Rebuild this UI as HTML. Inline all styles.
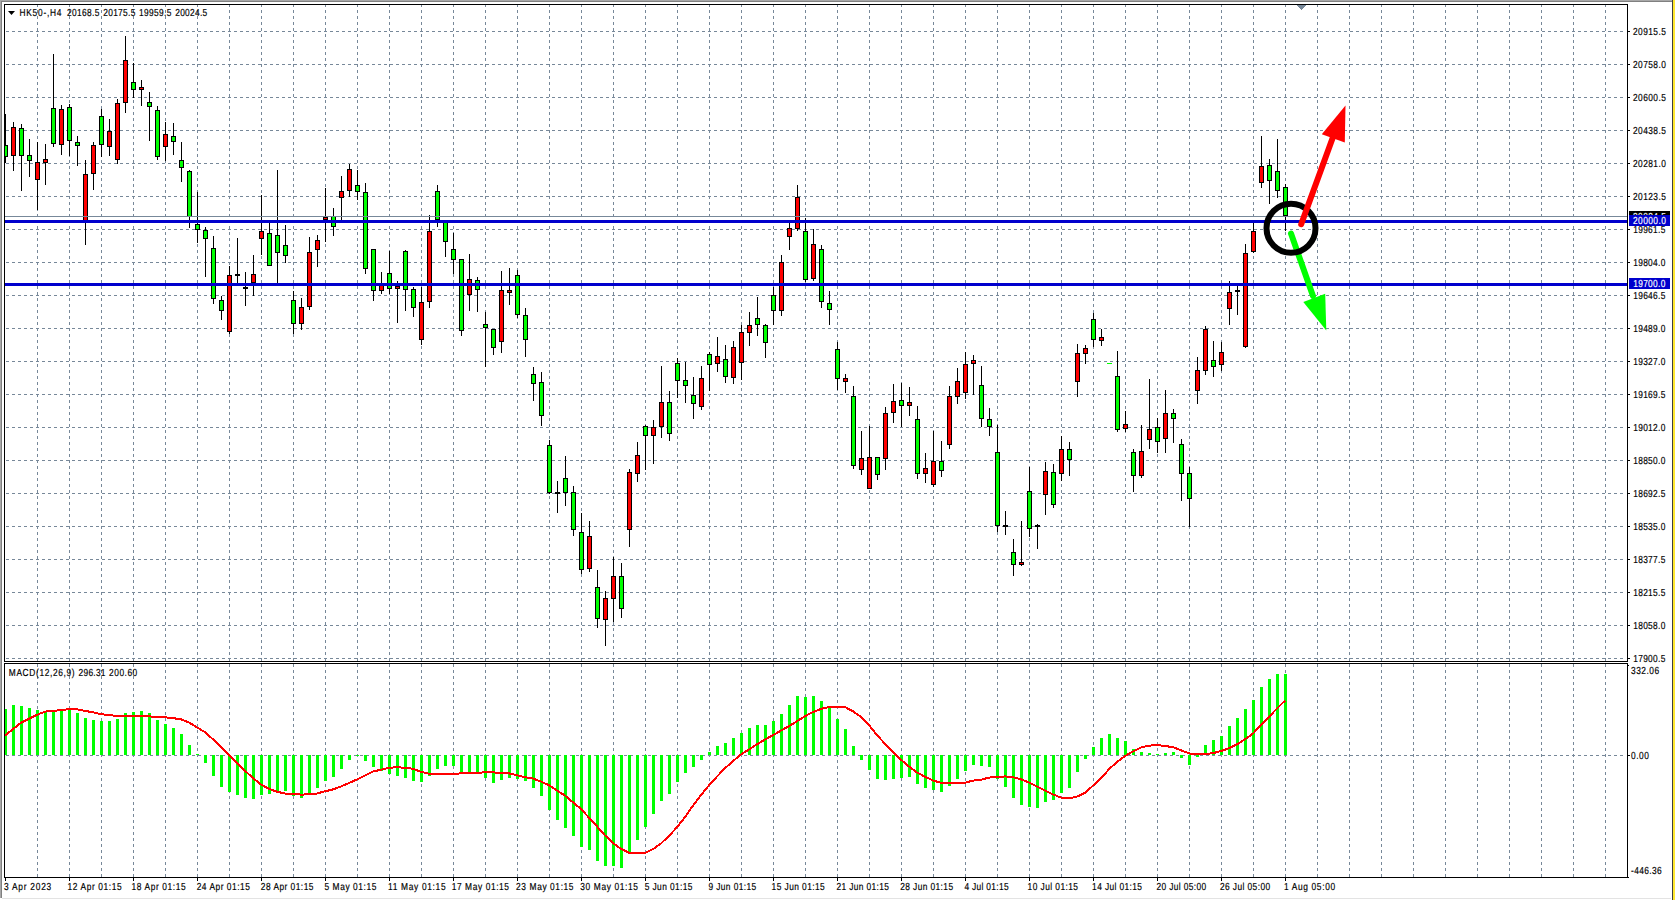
<!DOCTYPE html><html><head><meta charset="utf-8"><title>HK50 H4</title>
<style>html,body{margin:0;padding:0;background:#fff;overflow:hidden;}svg{display:block;}text{font-family:"Liberation Sans", sans-serif;}</style></head><body>
<svg width="1675" height="900" viewBox="0 0 1675 900">
<rect x="0" y="0" width="1675" height="900" fill="#ffffff"/>
<g shape-rendering="crispEdges">
<rect x="0" y="0" width="1672" height="1" fill="#a8a8a8"/>
<rect x="0" y="1" width="1672" height="1" fill="#808080"/>
<rect x="0" y="0" width="1" height="898" fill="#a8a8a8"/>
<rect x="1" y="1" width="1" height="897" fill="#808080"/>
<rect x="2" y="898" width="1669" height="1" fill="#e3e3e3"/>
<rect x="1672" y="0" width="1" height="900" fill="#404040"/>
<rect x="1673" y="0" width="2" height="900" fill="#ffe830"/>
<defs><clipPath id="cm"><rect x="5" y="5" width="1622" height="656"/></clipPath><clipPath id="cd"><rect x="5" y="664" width="1622" height="213"/></clipPath></defs>
<g clip-path="url(#cm)">
<path d="M37.5 4V661M69.5 4V661M101.5 4V661M133.5 4V661M165.5 4V661M197.5 4V661M229.5 4V661M261.5 4V661M293.5 4V661M325.5 4V661M357.5 4V661M389.5 4V661M421.5 4V661M453.5 4V661M485.5 4V661M517.5 4V661M549.5 4V661M581.5 4V661M613.5 4V661M645.5 4V661M677.5 4V661M709.5 4V661M741.5 4V661M773.5 4V661M805.5 4V661M837.5 4V661M869.5 4V661M901.5 4V661M933.5 4V661M965.5 4V661M997.5 4V661M1029.5 4V661M1061.5 4V661M1093.5 4V661M1125.5 4V661M1157.5 4V661M1189.5 4V661M1221.5 4V661M1253.5 4V661M1285.5 4V661M1317.5 4V661M1349.5 4V661M1381.5 4V661M1413.5 4V661M1445.5 4V661M1477.5 4V661M1509.5 4V661M1541.5 4V661M1573.5 4V661M1605.5 4V661" stroke="#778899" stroke-width="1" stroke-dasharray="3 3" fill="none"/>
<path d="M0 31.5H1626M0 64.5H1626M0 97.5H1626M0 130.5H1626M0 163.5H1626M0 196.5H1626M0 229.5H1626M0 262.5H1626M0 295.5H1626M0 328.5H1626M0 361.5H1626M0 394.5H1626M0 427.5H1626M0 460.5H1626M0 493.5H1626M0 526.5H1626M0 559.5H1626M0 592.5H1626M0 625.5H1626M0 658.5H1626" stroke="#778899" stroke-width="1" stroke-dasharray="3 3" fill="none"/>
</g>
<g clip-path="url(#cd)">
<path d="M37.5 658V877M69.5 658V877M101.5 658V877M133.5 658V877M165.5 658V877M197.5 658V877M229.5 658V877M261.5 658V877M293.5 658V877M325.5 658V877M357.5 658V877M389.5 658V877M421.5 658V877M453.5 658V877M485.5 658V877M517.5 658V877M549.5 658V877M581.5 658V877M613.5 658V877M645.5 658V877M677.5 658V877M709.5 658V877M741.5 658V877M773.5 658V877M805.5 658V877M837.5 658V877M869.5 658V877M901.5 658V877M933.5 658V877M965.5 658V877M997.5 658V877M1029.5 658V877M1061.5 658V877M1093.5 658V877M1125.5 658V877M1157.5 658V877M1189.5 658V877M1221.5 658V877M1253.5 658V877M1285.5 658V877M1317.5 658V877M1349.5 658V877M1381.5 658V877M1413.5 658V877M1445.5 658V877M1477.5 658V877M1509.5 658V877M1541.5 658V877M1573.5 658V877M1605.5 658V877" stroke="#778899" stroke-width="1" stroke-dasharray="3 3" fill="none"/>
<path d="M0 755.5H1626" stroke="#778899" stroke-width="1" stroke-dasharray="3 3" fill="none"/>
</g>
<g clip-path="url(#cm)">
<path d="M5.5 114V163M13.5 122V171M21.5 124V191M29.5 139V177M37.5 142V210M45.5 144V185M53.5 54V147M61.5 105V155M69.5 104V156M77.5 136V166M85.5 160V245M93.5 142V190M101.5 109V157M109.5 119V156M117.5 99V164M125.5 36V113M133.5 63V98M141.5 80V106M149.5 92V141M157.5 106V160M165.5 122V161M173.5 123V155M181.5 142V182M189.5 170V228M197.5 192V243M205.5 227V277M213.5 236V304M221.5 296V320M229.5 266V334M237.5 238V283M245.5 272V306M253.5 255V296M261.5 195V255M269.5 223V266M277.5 170V283M285.5 225V263M293.5 291V334M301.5 298V330M309.5 237V310M317.5 235V267M325.5 188V242M333.5 208V236M341.5 176V220M349.5 164V197M357.5 170V200M365.5 183V274M373.5 249V301M381.5 272V294M389.5 251V294M397.5 281V323M405.5 250V311M413.5 287V317M421.5 287V345M429.5 215V308M437.5 185V227M445.5 222V257M453.5 233V274M461.5 259V336M469.5 254V311M477.5 277V312M485.5 312V367M493.5 329V355M501.5 271V353M509.5 268V305M517.5 270V318M525.5 308V357M533.5 367V401M541.5 372V426M549.5 440V494M557.5 481V513M565.5 456V506M573.5 486V536M581.5 513V574M589.5 521V572M597.5 570V628M605.5 591V646M613.5 557V622M621.5 563V618M629.5 469V547M637.5 442V482M645.5 425V470M653.5 420V464M661.5 366V438M669.5 391V441M677.5 358V398M685.5 362V403M693.5 377V419M701.5 366V410M709.5 352V391M717.5 337V372M725.5 345V383M733.5 341V384M741.5 325V380M749.5 312V346M757.5 297V336M765.5 324V358M773.5 287V325M781.5 255V316M789.5 223V250M797.5 185V231M805.5 218V282M813.5 229V281M821.5 245V308M829.5 291V325M837.5 342V390M845.5 374V393M853.5 386V469M861.5 431V475M869.5 426V489M877.5 457V480M885.5 407V470M893.5 384V423M901.5 383V427M909.5 387V416M917.5 406V479M925.5 453V483M933.5 431V487M941.5 441V477M949.5 386V449M957.5 368V404M965.5 352V399M973.5 355V395M981.5 366V427M989.5 408V436M997.5 425V532M1005.5 511V535M1013.5 539V576M1021.5 521V566M1029.5 467V537M1037.5 524V549M1045.5 462V515M1053.5 464V508M1061.5 436V481M1069.5 442V476M1077.5 344V397M1085.5 345V364M1093.5 313V347M1101.5 329V346M1117.5 351V432M1125.5 411V432M1133.5 449V492M1141.5 425V478M1149.5 379V449M1157.5 418V453M1165.5 390V453M1173.5 409V443M1181.5 439V501M1189.5 467V527M1197.5 357V404M1205.5 326V375M1213.5 341V377M1221.5 342V371M1229.5 281V325M1237.5 286V315M1245.5 244V348M1253.5 223V253M1261.5 136V188M1269.5 159V204M1277.5 139V198M1285.5 184V231" stroke="#000" stroke-width="1" fill="none"/>
<rect x="3" y="145" width="5" height="12" fill="#000"/><rect x="4" y="146" width="3" height="10" fill="#00ff00"/><rect x="11" y="127" width="5" height="29" fill="#000"/><rect x="12" y="128" width="3" height="27" fill="#ff0000"/><rect x="19" y="128" width="5" height="28" fill="#000"/><rect x="20" y="129" width="3" height="26" fill="#00ff00"/><rect x="27" y="155" width="5" height="6" fill="#000"/><rect x="28" y="156" width="3" height="4" fill="#00ff00"/><rect x="35" y="162" width="5" height="18" fill="#000"/><rect x="36" y="163" width="3" height="16" fill="#ff0000"/><rect x="43" y="159" width="5" height="4" fill="#000"/><rect x="44" y="160" width="3" height="2" fill="#ff0000"/><rect x="51" y="108" width="5" height="36" fill="#000"/><rect x="52" y="109" width="3" height="34" fill="#00ff00"/><rect x="59" y="109" width="5" height="36" fill="#000"/><rect x="60" y="110" width="3" height="34" fill="#ff0000"/><rect x="67" y="107" width="5" height="34" fill="#000"/><rect x="68" y="108" width="3" height="32" fill="#00ff00"/><rect x="75" y="142" width="5" height="4" fill="#000"/><rect x="76" y="143" width="3" height="2" fill="#00ff00"/><rect x="83" y="174" width="5" height="49" fill="#000"/><rect x="84" y="175" width="3" height="47" fill="#ff0000"/><rect x="91" y="145" width="5" height="29" fill="#000"/><rect x="92" y="146" width="3" height="27" fill="#ff0000"/><rect x="99" y="116" width="5" height="29" fill="#000"/><rect x="100" y="117" width="3" height="27" fill="#00ff00"/><rect x="107" y="131" width="5" height="16" fill="#000"/><rect x="108" y="132" width="3" height="14" fill="#ff0000"/><rect x="115" y="103" width="5" height="57" fill="#000"/><rect x="116" y="104" width="3" height="55" fill="#ff0000"/><rect x="123" y="60" width="5" height="43" fill="#000"/><rect x="124" y="61" width="3" height="41" fill="#ff0000"/><rect x="131" y="82" width="5" height="8" fill="#000"/><rect x="132" y="83" width="3" height="6" fill="#00ff00"/><rect x="139" y="87" width="5" height="3" fill="#000"/><rect x="140" y="88" width="3" height="1" fill="#ff0000"/><rect x="147" y="102" width="5" height="5" fill="#000"/><rect x="148" y="103" width="3" height="3" fill="#00ff00"/><rect x="155" y="110" width="5" height="47" fill="#000"/><rect x="156" y="111" width="3" height="45" fill="#00ff00"/><rect x="163" y="134" width="5" height="13" fill="#000"/><rect x="164" y="135" width="3" height="11" fill="#ff0000"/><rect x="171" y="136" width="5" height="6" fill="#000"/><rect x="172" y="137" width="3" height="4" fill="#00ff00"/><rect x="179" y="160" width="5" height="8" fill="#000"/><rect x="180" y="161" width="3" height="6" fill="#00ff00"/><rect x="187" y="171" width="5" height="46" fill="#000"/><rect x="188" y="172" width="3" height="44" fill="#00ff00"/><rect x="195" y="224" width="5" height="6" fill="#000"/><rect x="196" y="225" width="3" height="4" fill="#00ff00"/><rect x="203" y="230" width="5" height="9" fill="#000"/><rect x="204" y="231" width="3" height="7" fill="#00ff00"/><rect x="211" y="248" width="5" height="51" fill="#000"/><rect x="212" y="249" width="3" height="49" fill="#00ff00"/><rect x="219" y="300" width="5" height="11" fill="#000"/><rect x="220" y="301" width="3" height="9" fill="#00ff00"/><rect x="227" y="275" width="5" height="57" fill="#000"/><rect x="228" y="276" width="3" height="55" fill="#ff0000"/><rect x="235" y="274" width="5" height="2" fill="#000"/><rect x="243" y="287" width="5" height="2" fill="#000"/><rect x="251" y="274" width="5" height="9" fill="#000"/><rect x="252" y="275" width="3" height="7" fill="#ff0000"/><rect x="259" y="231" width="5" height="8" fill="#000"/><rect x="260" y="232" width="3" height="6" fill="#ff0000"/><rect x="267" y="233" width="5" height="33" fill="#000"/><rect x="268" y="234" width="3" height="31" fill="#00ff00"/><rect x="275" y="235" width="5" height="18" fill="#000"/><rect x="276" y="236" width="3" height="16" fill="#00ff00"/><rect x="283" y="245" width="5" height="11" fill="#000"/><rect x="284" y="246" width="3" height="9" fill="#00ff00"/><rect x="291" y="300" width="5" height="24" fill="#000"/><rect x="292" y="301" width="3" height="22" fill="#00ff00"/><rect x="299" y="307" width="5" height="17" fill="#000"/><rect x="300" y="308" width="3" height="15" fill="#ff0000"/><rect x="307" y="252" width="5" height="55" fill="#000"/><rect x="308" y="253" width="3" height="53" fill="#ff0000"/><rect x="315" y="240" width="5" height="10" fill="#000"/><rect x="316" y="241" width="3" height="8" fill="#ff0000"/><rect x="323" y="217" width="5" height="3" fill="#000"/><rect x="324" y="218" width="3" height="1" fill="#ff0000"/><rect x="331" y="216" width="5" height="11" fill="#000"/><rect x="332" y="217" width="3" height="9" fill="#00ff00"/><rect x="339" y="191" width="5" height="7" fill="#000"/><rect x="340" y="192" width="3" height="5" fill="#ff0000"/><rect x="347" y="169" width="5" height="22" fill="#000"/><rect x="348" y="170" width="3" height="20" fill="#ff0000"/><rect x="355" y="185" width="5" height="7" fill="#000"/><rect x="356" y="186" width="3" height="5" fill="#00ff00"/><rect x="363" y="192" width="5" height="77" fill="#000"/><rect x="364" y="193" width="3" height="75" fill="#00ff00"/><rect x="371" y="249" width="5" height="42" fill="#000"/><rect x="372" y="250" width="3" height="40" fill="#00ff00"/><rect x="379" y="285" width="5" height="6" fill="#000"/><rect x="380" y="286" width="3" height="4" fill="#ff0000"/><rect x="387" y="273" width="5" height="16" fill="#000"/><rect x="388" y="274" width="3" height="14" fill="#00ff00"/><rect x="395" y="286" width="5" height="3" fill="#000"/><rect x="396" y="287" width="3" height="1" fill="#ff0000"/><rect x="403" y="251" width="5" height="39" fill="#000"/><rect x="404" y="252" width="3" height="37" fill="#00ff00"/><rect x="411" y="289" width="5" height="19" fill="#000"/><rect x="412" y="290" width="3" height="17" fill="#00ff00"/><rect x="419" y="302" width="5" height="38" fill="#000"/><rect x="420" y="303" width="3" height="36" fill="#ff0000"/><rect x="427" y="231" width="5" height="71" fill="#000"/><rect x="428" y="232" width="3" height="69" fill="#ff0000"/><rect x="435" y="191" width="5" height="29" fill="#000"/><rect x="436" y="192" width="3" height="27" fill="#00ff00"/><rect x="443" y="222" width="5" height="20" fill="#000"/><rect x="444" y="223" width="3" height="18" fill="#00ff00"/><rect x="451" y="249" width="5" height="11" fill="#000"/><rect x="452" y="250" width="3" height="9" fill="#00ff00"/><rect x="459" y="259" width="5" height="72" fill="#000"/><rect x="460" y="260" width="3" height="70" fill="#00ff00"/><rect x="467" y="279" width="5" height="16" fill="#000"/><rect x="468" y="280" width="3" height="14" fill="#ff0000"/><rect x="475" y="280" width="5" height="10" fill="#000"/><rect x="476" y="281" width="3" height="8" fill="#00ff00"/><rect x="483" y="324" width="5" height="4" fill="#000"/><rect x="484" y="325" width="3" height="2" fill="#00ff00"/><rect x="491" y="329" width="5" height="19" fill="#000"/><rect x="492" y="330" width="3" height="17" fill="#00ff00"/><rect x="499" y="290" width="5" height="52" fill="#000"/><rect x="500" y="291" width="3" height="50" fill="#ff0000"/><rect x="507" y="290" width="5" height="3" fill="#000"/><rect x="508" y="291" width="3" height="1" fill="#ff0000"/><rect x="515" y="275" width="5" height="40" fill="#000"/><rect x="516" y="276" width="3" height="38" fill="#00ff00"/><rect x="523" y="315" width="5" height="25" fill="#000"/><rect x="524" y="316" width="3" height="23" fill="#00ff00"/><rect x="531" y="374" width="5" height="10" fill="#000"/><rect x="532" y="375" width="3" height="8" fill="#00ff00"/><rect x="539" y="382" width="5" height="34" fill="#000"/><rect x="540" y="383" width="3" height="32" fill="#00ff00"/><rect x="547" y="445" width="5" height="48" fill="#000"/><rect x="548" y="446" width="3" height="46" fill="#00ff00"/><rect x="555" y="492" width="5" height="2" fill="#000"/><rect x="563" y="478" width="5" height="15" fill="#000"/><rect x="564" y="479" width="3" height="13" fill="#00ff00"/><rect x="571" y="492" width="5" height="38" fill="#000"/><rect x="572" y="493" width="3" height="36" fill="#00ff00"/><rect x="579" y="532" width="5" height="38" fill="#000"/><rect x="580" y="533" width="3" height="36" fill="#00ff00"/><rect x="587" y="536" width="5" height="33" fill="#000"/><rect x="588" y="537" width="3" height="31" fill="#ff0000"/><rect x="595" y="587" width="5" height="32" fill="#000"/><rect x="596" y="588" width="3" height="30" fill="#00ff00"/><rect x="603" y="598" width="5" height="22" fill="#000"/><rect x="604" y="599" width="3" height="20" fill="#ff0000"/><rect x="611" y="576" width="5" height="23" fill="#000"/><rect x="612" y="577" width="3" height="21" fill="#ff0000"/><rect x="619" y="576" width="5" height="33" fill="#000"/><rect x="620" y="577" width="3" height="31" fill="#00ff00"/><rect x="627" y="472" width="5" height="58" fill="#000"/><rect x="628" y="473" width="3" height="56" fill="#ff0000"/><rect x="635" y="455" width="5" height="19" fill="#000"/><rect x="636" y="456" width="3" height="17" fill="#ff0000"/><rect x="643" y="426" width="5" height="10" fill="#000"/><rect x="644" y="427" width="3" height="8" fill="#00ff00"/><rect x="651" y="427" width="5" height="9" fill="#000"/><rect x="652" y="428" width="3" height="7" fill="#ff0000"/><rect x="659" y="402" width="5" height="25" fill="#000"/><rect x="660" y="403" width="3" height="23" fill="#ff0000"/><rect x="667" y="402" width="5" height="32" fill="#000"/><rect x="668" y="403" width="3" height="30" fill="#00ff00"/><rect x="675" y="363" width="5" height="18" fill="#000"/><rect x="676" y="364" width="3" height="16" fill="#00ff00"/><rect x="683" y="380" width="5" height="6" fill="#000"/><rect x="684" y="381" width="3" height="4" fill="#00ff00"/><rect x="691" y="395" width="5" height="9" fill="#000"/><rect x="692" y="396" width="3" height="7" fill="#00ff00"/><rect x="699" y="378" width="5" height="29" fill="#000"/><rect x="700" y="379" width="3" height="27" fill="#ff0000"/><rect x="707" y="354" width="5" height="11" fill="#000"/><rect x="708" y="355" width="3" height="9" fill="#00ff00"/><rect x="715" y="356" width="5" height="8" fill="#000"/><rect x="716" y="357" width="3" height="6" fill="#ff0000"/><rect x="723" y="359" width="5" height="18" fill="#000"/><rect x="724" y="360" width="3" height="16" fill="#00ff00"/><rect x="731" y="347" width="5" height="31" fill="#000"/><rect x="732" y="348" width="3" height="29" fill="#ff0000"/><rect x="739" y="332" width="5" height="31" fill="#000"/><rect x="740" y="333" width="3" height="29" fill="#ff0000"/><rect x="747" y="325" width="5" height="8" fill="#000"/><rect x="748" y="326" width="3" height="6" fill="#ff0000"/><rect x="755" y="318" width="5" height="7" fill="#000"/><rect x="756" y="319" width="3" height="5" fill="#00ff00"/><rect x="763" y="325" width="5" height="18" fill="#000"/><rect x="764" y="326" width="3" height="16" fill="#00ff00"/><rect x="771" y="295" width="5" height="16" fill="#000"/><rect x="772" y="296" width="3" height="14" fill="#00ff00"/><rect x="779" y="262" width="5" height="49" fill="#000"/><rect x="780" y="263" width="3" height="47" fill="#ff0000"/><rect x="787" y="228" width="5" height="9" fill="#000"/><rect x="788" y="229" width="3" height="7" fill="#ff0000"/><rect x="795" y="197" width="5" height="32" fill="#000"/><rect x="796" y="198" width="3" height="30" fill="#ff0000"/><rect x="803" y="231" width="5" height="49" fill="#000"/><rect x="804" y="232" width="3" height="47" fill="#00ff00"/><rect x="811" y="244" width="5" height="35" fill="#000"/><rect x="812" y="245" width="3" height="33" fill="#ff0000"/><rect x="819" y="249" width="5" height="53" fill="#000"/><rect x="820" y="250" width="3" height="51" fill="#00ff00"/><rect x="827" y="303" width="5" height="7" fill="#000"/><rect x="828" y="304" width="3" height="5" fill="#00ff00"/><rect x="835" y="349" width="5" height="30" fill="#000"/><rect x="836" y="350" width="3" height="28" fill="#00ff00"/><rect x="843" y="378" width="5" height="4" fill="#000"/><rect x="844" y="379" width="3" height="2" fill="#ff0000"/><rect x="851" y="396" width="5" height="70" fill="#000"/><rect x="852" y="397" width="3" height="68" fill="#00ff00"/><rect x="859" y="458" width="5" height="12" fill="#000"/><rect x="860" y="459" width="3" height="10" fill="#ff0000"/><rect x="867" y="457" width="5" height="32" fill="#000"/><rect x="868" y="458" width="3" height="30" fill="#ff0000"/><rect x="875" y="457" width="5" height="18" fill="#000"/><rect x="876" y="458" width="3" height="16" fill="#00ff00"/><rect x="883" y="413" width="5" height="46" fill="#000"/><rect x="884" y="414" width="3" height="44" fill="#ff0000"/><rect x="891" y="401" width="5" height="12" fill="#000"/><rect x="892" y="402" width="3" height="10" fill="#ff0000"/><rect x="899" y="400" width="5" height="6" fill="#000"/><rect x="900" y="401" width="3" height="4" fill="#00ff00"/><rect x="907" y="402" width="5" height="4" fill="#000"/><rect x="908" y="403" width="3" height="2" fill="#ff0000"/><rect x="915" y="419" width="5" height="55" fill="#000"/><rect x="916" y="420" width="3" height="53" fill="#00ff00"/><rect x="923" y="468" width="5" height="6" fill="#000"/><rect x="924" y="469" width="3" height="4" fill="#ff0000"/><rect x="931" y="461" width="5" height="24" fill="#000"/><rect x="932" y="462" width="3" height="22" fill="#ff0000"/><rect x="939" y="461" width="5" height="10" fill="#000"/><rect x="940" y="462" width="3" height="8" fill="#00ff00"/><rect x="947" y="396" width="5" height="49" fill="#000"/><rect x="948" y="397" width="3" height="47" fill="#ff0000"/><rect x="955" y="381" width="5" height="16" fill="#000"/><rect x="956" y="382" width="3" height="14" fill="#ff0000"/><rect x="963" y="364" width="5" height="29" fill="#000"/><rect x="964" y="365" width="3" height="27" fill="#ff0000"/><rect x="971" y="360" width="5" height="4" fill="#000"/><rect x="972" y="361" width="3" height="2" fill="#ff0000"/><rect x="979" y="385" width="5" height="34" fill="#000"/><rect x="980" y="386" width="3" height="32" fill="#00ff00"/><rect x="987" y="419" width="5" height="8" fill="#000"/><rect x="988" y="420" width="3" height="6" fill="#00ff00"/><rect x="995" y="452" width="5" height="74" fill="#000"/><rect x="996" y="453" width="3" height="72" fill="#00ff00"/><rect x="1003" y="525" width="5" height="2" fill="#000"/><rect x="1011" y="552" width="5" height="13" fill="#000"/><rect x="1012" y="553" width="3" height="11" fill="#00ff00"/><rect x="1019" y="562" width="5" height="3" fill="#000"/><rect x="1020" y="563" width="3" height="1" fill="#ff0000"/><rect x="1027" y="491" width="5" height="38" fill="#000"/><rect x="1028" y="492" width="3" height="36" fill="#00ff00"/><rect x="1035" y="525" width="5" height="2" fill="#000"/><rect x="1043" y="471" width="5" height="24" fill="#000"/><rect x="1044" y="472" width="3" height="22" fill="#ff0000"/><rect x="1051" y="472" width="5" height="33" fill="#000"/><rect x="1052" y="473" width="3" height="31" fill="#00ff00"/><rect x="1059" y="449" width="5" height="25" fill="#000"/><rect x="1060" y="450" width="3" height="23" fill="#ff0000"/><rect x="1067" y="449" width="5" height="11" fill="#000"/><rect x="1068" y="450" width="3" height="9" fill="#00ff00"/><rect x="1075" y="353" width="5" height="29" fill="#000"/><rect x="1076" y="354" width="3" height="27" fill="#ff0000"/><rect x="1083" y="348" width="5" height="6" fill="#000"/><rect x="1084" y="349" width="3" height="4" fill="#ff0000"/><rect x="1091" y="319" width="5" height="21" fill="#000"/><rect x="1092" y="320" width="3" height="19" fill="#00ff00"/><rect x="1099" y="337" width="5" height="4" fill="#000"/><rect x="1100" y="338" width="3" height="2" fill="#ff0000"/><rect x="1115" y="376" width="5" height="54" fill="#000"/><rect x="1116" y="377" width="3" height="52" fill="#00ff00"/><rect x="1123" y="424" width="5" height="5" fill="#000"/><rect x="1124" y="425" width="3" height="3" fill="#ff0000"/><rect x="1131" y="452" width="5" height="24" fill="#000"/><rect x="1132" y="453" width="3" height="22" fill="#00ff00"/><rect x="1139" y="451" width="5" height="25" fill="#000"/><rect x="1140" y="452" width="3" height="23" fill="#ff0000"/><rect x="1147" y="429" width="5" height="11" fill="#000"/><rect x="1148" y="430" width="3" height="9" fill="#ff0000"/><rect x="1155" y="427" width="5" height="15" fill="#000"/><rect x="1156" y="428" width="3" height="13" fill="#00ff00"/><rect x="1163" y="413" width="5" height="26" fill="#000"/><rect x="1164" y="414" width="3" height="24" fill="#ff0000"/><rect x="1171" y="413" width="5" height="6" fill="#000"/><rect x="1172" y="414" width="3" height="4" fill="#00ff00"/><rect x="1179" y="444" width="5" height="30" fill="#000"/><rect x="1180" y="445" width="3" height="28" fill="#00ff00"/><rect x="1187" y="473" width="5" height="26" fill="#000"/><rect x="1188" y="474" width="3" height="24" fill="#00ff00"/><rect x="1195" y="370" width="5" height="21" fill="#000"/><rect x="1196" y="371" width="3" height="19" fill="#ff0000"/><rect x="1203" y="329" width="5" height="42" fill="#000"/><rect x="1204" y="330" width="3" height="40" fill="#ff0000"/><rect x="1211" y="360" width="5" height="7" fill="#000"/><rect x="1212" y="361" width="3" height="5" fill="#00ff00"/><rect x="1219" y="352" width="5" height="13" fill="#000"/><rect x="1220" y="353" width="3" height="11" fill="#ff0000"/><rect x="1227" y="292" width="5" height="17" fill="#000"/><rect x="1228" y="293" width="3" height="15" fill="#ff0000"/><rect x="1235" y="290" width="5" height="2" fill="#000"/><rect x="1243" y="253" width="5" height="94" fill="#000"/><rect x="1244" y="254" width="3" height="92" fill="#ff0000"/><rect x="1251" y="231" width="5" height="21" fill="#000"/><rect x="1252" y="232" width="3" height="19" fill="#ff0000"/><rect x="1259" y="166" width="5" height="17" fill="#000"/><rect x="1260" y="167" width="3" height="15" fill="#ff0000"/><rect x="1267" y="165" width="5" height="16" fill="#000"/><rect x="1268" y="166" width="3" height="14" fill="#00ff00"/><rect x="1275" y="171" width="5" height="20" fill="#000"/><rect x="1276" y="172" width="3" height="18" fill="#00ff00"/><rect x="1283" y="187" width="5" height="29" fill="#000"/><rect x="1284" y="188" width="3" height="27" fill="#00ff00"/>
<rect x="1107" y="363" width="5" height="1" fill="#00ff00"/>
<rect x="5" y="216" width="1622" height="1" fill="#778899"/>
<rect x="5" y="220" width="1622" height="3" fill="#0000cd"/>
<rect x="5" y="283" width="1622" height="3" fill="#0000cd"/>
<path d="M1296 5H1306L1301 10Z" fill="#778899"/>
</g>
<g clip-path="url(#cd)">
<path d="M4 709h3V755h-3ZM12 705h3V755h-3ZM20 706h3V755h-3ZM28 708h3V755h-3ZM36 710h3V755h-3ZM44 712h3V755h-3ZM52 712h3V755h-3ZM60 710h3V755h-3ZM68 709h3V755h-3ZM76 713h3V755h-3ZM84 718h3V755h-3ZM92 720h3V755h-3ZM100 721h3V755h-3ZM108 721h3V755h-3ZM116 719h3V755h-3ZM124 713h3V755h-3ZM132 712h3V755h-3ZM140 711h3V755h-3ZM148 713h3V755h-3ZM156 720h3V755h-3ZM164 724h3V755h-3ZM172 728h3V755h-3ZM180 734h3V755h-3ZM188 745h3V755h-3ZM196 754h3V755h-3ZM204 755h3V763h-3ZM212 755h3V776h-3ZM220 755h3V787h-3ZM228 755h3V792h-3ZM236 755h3V795h-3ZM244 755h3V798h-3ZM252 755h3V799h-3ZM260 755h3V795h-3ZM268 755h3V794h-3ZM276 755h3V791h-3ZM284 755h3V791h-3ZM292 755h3V796h-3ZM300 755h3V798h-3ZM308 755h3V793h-3ZM316 755h3V788h-3ZM324 755h3V781h-3ZM332 755h3V777h-3ZM340 755h3V769h-3ZM348 755h3V760h-3ZM356 755h3V756h-3ZM364 755h3V761h-3ZM372 755h3V767h-3ZM380 755h3V771h-3ZM388 755h3V774h-3ZM396 755h3V776h-3ZM404 755h3V778h-3ZM412 755h3V781h-3ZM420 755h3V782h-3ZM428 755h3V776h-3ZM436 755h3V769h-3ZM444 755h3V766h-3ZM452 755h3V766h-3ZM460 755h3V772h-3ZM468 755h3V772h-3ZM476 755h3V772h-3ZM484 755h3V778h-3ZM492 755h3V783h-3ZM500 755h3V780h-3ZM508 755h3V778h-3ZM516 755h3V779h-3ZM524 755h3V781h-3ZM532 755h3V788h-3ZM540 755h3V796h-3ZM548 755h3V810h-3ZM556 755h3V820h-3ZM564 755h3V828h-3ZM572 755h3V836h-3ZM580 755h3V847h-3ZM588 755h3V850h-3ZM596 755h3V861h-3ZM604 755h3V866h-3ZM612 755h3V866h-3ZM620 755h3V868h-3ZM628 755h3V852h-3ZM636 755h3V840h-3ZM644 755h3V827h-3ZM652 755h3V814h-3ZM660 755h3V801h-3ZM668 755h3V794h-3ZM676 755h3V782h-3ZM684 755h3V773h-3ZM692 755h3V767h-3ZM700 755h3V760h-3ZM708 752h3V755h-3ZM716 746h3V755h-3ZM724 743h3V755h-3ZM732 738h3V755h-3ZM740 733h3V755h-3ZM748 728h3V755h-3ZM756 725h3V755h-3ZM764 725h3V755h-3ZM772 721h3V755h-3ZM780 714h3V755h-3ZM788 705h3V755h-3ZM796 696h3V755h-3ZM804 697h3V755h-3ZM812 696h3V755h-3ZM820 701h3V755h-3ZM828 708h3V755h-3ZM836 719h3V755h-3ZM844 729h3V755h-3ZM852 746h3V755h-3ZM860 755h3V760h-3ZM868 755h3V770h-3ZM876 755h3V779h-3ZM884 755h3V780h-3ZM892 755h3V779h-3ZM900 755h3V778h-3ZM908 755h3V777h-3ZM916 755h3V784h-3ZM924 755h3V788h-3ZM932 755h3V790h-3ZM940 755h3V792h-3ZM948 755h3V786h-3ZM956 755h3V779h-3ZM964 755h3V771h-3ZM972 755h3V765h-3ZM980 755h3V766h-3ZM988 755h3V767h-3ZM996 755h3V779h-3ZM1004 755h3V787h-3ZM1012 755h3V798h-3ZM1020 755h3V805h-3ZM1028 755h3V807h-3ZM1036 755h3V808h-3ZM1044 755h3V802h-3ZM1052 755h3V800h-3ZM1060 755h3V793h-3ZM1068 755h3V788h-3ZM1076 755h3V772h-3ZM1084 755h3V759h-3ZM1092 747h3V755h-3ZM1100 738h3V755h-3ZM1108 734h3V755h-3ZM1116 738h3V755h-3ZM1124 741h3V755h-3ZM1132 749h3V755h-3ZM1140 752h3V755h-3ZM1148 753h3V755h-3ZM1156 754h3V755h-3ZM1164 753h3V755h-3ZM1172 752h3V755h-3ZM1180 755h3V758h-3ZM1188 755h3V765h-3ZM1196 755h3V757h-3ZM1204 745h3V755h-3ZM1212 740h3V755h-3ZM1220 736h3V755h-3ZM1228 726h3V755h-3ZM1236 718h3V755h-3ZM1244 709h3V755h-3ZM1252 700h3V755h-3ZM1260 687h3V755h-3ZM1268 679h3V755h-3ZM1276 674h3V755h-3ZM1284 674h3V755h-3Z" fill="#00ff00"/>
</g>
</g>
<g clip-path="url(#cd)"><polyline points="5,735.60 13,729.00 21,722.80 29,718.80 37,714.80 45,711.60 53,711.00 61,710.00 69,709.20 77,709.22 85,710.94 93,712.22 101,714.19 109,715.06 117,715.89 125,715.95 133,716.01 141,716.12 149,716.37 157,716.83 165,717.31 173,718.14 181,719.32 189,722.51 197,727.39 205,732.22 213,739.33 221,747.29 229,755.34 237,762.79 245,770.68 253,778.19 261,784.47 269,788.84 277,791.74 285,793.53 293,794.23 301,794.56 309,794.45 317,793.49 325,791.34 333,789.39 341,786.46 349,782.98 357,779.49 365,775.59 373,771.52 381,769.75 389,767.77 397,767.29 405,767.75 413,768.72 421,771.79 429,773.85 437,774.39 445,774.34 453,773.76 461,773.40 469,773.18 477,772.74 485,772.38 493,772.43 501,772.81 509,773.41 517,775.28 525,777.16 533,778.50 541,781.53 549,785.29 557,790.53 565,795.58 573,802.29 581,809.02 589,817.67 597,826.41 605,835.44 613,842.98 621,848.86 629,852.68 637,853.35 645,852.85 653,849.17 661,843.44 669,835.87 677,827.26 685,817.04 693,805.63 701,795.12 709,785.28 717,776.53 725,768.28 733,761.13 741,754.49 749,749.44 757,744.28 765,739.44 773,735.23 781,730.47 789,726.24 797,721.13 805,716.20 813,712.04 821,708.89 829,707.00 837,706.67 845,707.11 853,711.24 861,717.04 869,725.21 877,735.16 885,743.78 893,752.31 901,759.65 909,766.57 917,772.53 925,776.71 933,780.48 941,782.75 949,783.24 957,783.18 965,782.74 973,780.62 981,779.71 989,777.61 997,776.86 1005,776.44 1013,777.28 1021,779.33 1029,782.49 1037,786.44 1045,790.60 1053,794.39 1061,797.58 1069,798.33 1077,796.60 1085,792.83 1093,785.61 1101,778.28 1109,769.22 1117,761.96 1125,755.98 1133,751.39 1141,747.44 1149,745.63 1157,745.06 1165,745.94 1173,747.22 1181,750.30 1189,753.35 1197,754.34 1205,754.12 1213,753.15 1221,751.06 1229,748.20 1237,744.26 1245,739.37 1253,733.54 1261,725.11 1269,716.68 1277,708.53 1285,700.62" fill="none" stroke="#ff0000" stroke-width="2" stroke-linejoin="round" shape-rendering="crispEdges"/></g>
<g clip-path="url(#cm)">
<line x1="1291" y1="233.5" x2="1313" y2="296" stroke="#00ff00" stroke-width="6" stroke-linecap="round"/>
<path d="M1326.3 330.5L1303.3 302L1325.2 293.7Z" fill="#00ff00"/>
<circle cx="1291" cy="228.2" r="24.5" fill="none" stroke="#000" stroke-width="6"/>
<line x1="1301.2" y1="224.2" x2="1333" y2="137" stroke="#ff0000" stroke-width="6" stroke-linecap="round"/>
<path d="M1345.5 105.5L1321.8 134.3L1344.8 142.5Z" fill="#ff0000"/>
</g>
<g shape-rendering="crispEdges" fill="#000">
<rect x="4" y="4" width="1624" height="1"/>
<rect x="4" y="661" width="1624" height="1"/>
<rect x="4" y="4" width="1" height="658"/>
<rect x="1627" y="4" width="1" height="658"/>
<rect x="4" y="663" width="1624" height="1"/>
<rect x="1628" y="665" width="1" height="1"/>
<rect x="4" y="877" width="1625" height="1"/>
<rect x="4" y="663" width="1" height="215"/>
<rect x="1627" y="663" width="1" height="215"/>
<rect x="1628" y="31" width="2" height="1"/>
<rect x="1628" y="64" width="2" height="1"/>
<rect x="1628" y="97" width="2" height="1"/>
<rect x="1628" y="130" width="2" height="1"/>
<rect x="1628" y="163" width="2" height="1"/>
<rect x="1628" y="196" width="2" height="1"/>
<rect x="1628" y="229" width="2" height="1"/>
<rect x="1628" y="262" width="2" height="1"/>
<rect x="1628" y="295" width="2" height="1"/>
<rect x="1628" y="328" width="2" height="1"/>
<rect x="1628" y="361" width="2" height="1"/>
<rect x="1628" y="394" width="2" height="1"/>
<rect x="1628" y="427" width="2" height="1"/>
<rect x="1628" y="460" width="2" height="1"/>
<rect x="1628" y="493" width="2" height="1"/>
<rect x="1628" y="526" width="2" height="1"/>
<rect x="1628" y="559" width="2" height="1"/>
<rect x="1628" y="592" width="2" height="1"/>
<rect x="1628" y="625" width="2" height="1"/>
<rect x="1628" y="658" width="2" height="1"/>
<rect x="1628" y="755" width="2" height="1"/>
<rect x="5" y="878" width="1" height="3"/>
<rect x="69" y="878" width="1" height="3"/>
<rect x="133" y="878" width="1" height="3"/>
<rect x="197" y="878" width="1" height="3"/>
<rect x="261" y="878" width="1" height="3"/>
<rect x="325" y="878" width="1" height="3"/>
<rect x="389" y="878" width="1" height="3"/>
<rect x="453" y="878" width="1" height="3"/>
<rect x="517" y="878" width="1" height="3"/>
<rect x="581" y="878" width="1" height="3"/>
<rect x="645" y="878" width="1" height="3"/>
<rect x="709" y="878" width="1" height="3"/>
<rect x="773" y="878" width="1" height="3"/>
<rect x="837" y="878" width="1" height="3"/>
<rect x="901" y="878" width="1" height="3"/>
<rect x="965" y="878" width="1" height="3"/>
<rect x="1029" y="878" width="1" height="3"/>
<rect x="1093" y="878" width="1" height="3"/>
<rect x="1157" y="878" width="1" height="3"/>
<rect x="1221" y="878" width="1" height="3"/>
<rect x="1285" y="878" width="1" height="3"/>
</g>
<rect x="1629" y="211" width="41" height="11" fill="#000" shape-rendering="crispEdges"/>
<text transform="translate(1633.00,220) scale(0.820,1)" font-size="10.2" letter-spacing="0.541" fill="#fff" stroke="#fff" stroke-width="0.18" text-rendering="geometricPrecision">20024.5</text>
<rect x="1629" y="215" width="41" height="11" fill="#0000cd" shape-rendering="crispEdges"/>
<rect x="1629" y="278" width="41" height="11" fill="#0000cd" shape-rendering="crispEdges"/>
<text transform="translate(1633.00,35) scale(0.820,1)" font-size="10.2" letter-spacing="0.541" fill="#000" stroke="#000" stroke-width="0.18" text-rendering="geometricPrecision">20915.5</text>
<text transform="translate(1633.00,68) scale(0.820,1)" font-size="10.2" letter-spacing="0.541" fill="#000" stroke="#000" stroke-width="0.18" text-rendering="geometricPrecision">20758.0</text>
<text transform="translate(1633.00,101) scale(0.820,1)" font-size="10.2" letter-spacing="0.541" fill="#000" stroke="#000" stroke-width="0.18" text-rendering="geometricPrecision">20600.5</text>
<text transform="translate(1633.00,134) scale(0.820,1)" font-size="10.2" letter-spacing="0.541" fill="#000" stroke="#000" stroke-width="0.18" text-rendering="geometricPrecision">20438.5</text>
<text transform="translate(1633.00,167) scale(0.820,1)" font-size="10.2" letter-spacing="0.541" fill="#000" stroke="#000" stroke-width="0.18" text-rendering="geometricPrecision">20281.0</text>
<text transform="translate(1633.00,200) scale(0.820,1)" font-size="10.2" letter-spacing="0.541" fill="#000" stroke="#000" stroke-width="0.18" text-rendering="geometricPrecision">20123.5</text>
<text transform="translate(1633.18,233) scale(0.820,1)" font-size="10.2" letter-spacing="0.402" fill="#000" stroke="#000" stroke-width="0.18" text-rendering="geometricPrecision">19961.5</text>
<text transform="translate(1633.18,266) scale(0.820,1)" font-size="10.2" letter-spacing="0.402" fill="#000" stroke="#000" stroke-width="0.18" text-rendering="geometricPrecision">19804.0</text>
<text transform="translate(1633.18,299) scale(0.820,1)" font-size="10.2" letter-spacing="0.402" fill="#000" stroke="#000" stroke-width="0.18" text-rendering="geometricPrecision">19646.5</text>
<text transform="translate(1633.18,332) scale(0.820,1)" font-size="10.2" letter-spacing="0.402" fill="#000" stroke="#000" stroke-width="0.18" text-rendering="geometricPrecision">19489.0</text>
<text transform="translate(1633.18,365) scale(0.820,1)" font-size="10.2" letter-spacing="0.402" fill="#000" stroke="#000" stroke-width="0.18" text-rendering="geometricPrecision">19327.0</text>
<text transform="translate(1633.18,398) scale(0.820,1)" font-size="10.2" letter-spacing="0.402" fill="#000" stroke="#000" stroke-width="0.18" text-rendering="geometricPrecision">19169.5</text>
<text transform="translate(1633.18,431) scale(0.820,1)" font-size="10.2" letter-spacing="0.402" fill="#000" stroke="#000" stroke-width="0.18" text-rendering="geometricPrecision">19012.0</text>
<text transform="translate(1633.18,464) scale(0.820,1)" font-size="10.2" letter-spacing="0.402" fill="#000" stroke="#000" stroke-width="0.18" text-rendering="geometricPrecision">18850.0</text>
<text transform="translate(1633.18,497) scale(0.820,1)" font-size="10.2" letter-spacing="0.402" fill="#000" stroke="#000" stroke-width="0.18" text-rendering="geometricPrecision">18692.5</text>
<text transform="translate(1633.18,530) scale(0.820,1)" font-size="10.2" letter-spacing="0.402" fill="#000" stroke="#000" stroke-width="0.18" text-rendering="geometricPrecision">18535.0</text>
<text transform="translate(1633.18,563) scale(0.820,1)" font-size="10.2" letter-spacing="0.402" fill="#000" stroke="#000" stroke-width="0.18" text-rendering="geometricPrecision">18377.5</text>
<text transform="translate(1633.18,596) scale(0.820,1)" font-size="10.2" letter-spacing="0.402" fill="#000" stroke="#000" stroke-width="0.18" text-rendering="geometricPrecision">18215.5</text>
<text transform="translate(1633.18,629) scale(0.820,1)" font-size="10.2" letter-spacing="0.402" fill="#000" stroke="#000" stroke-width="0.18" text-rendering="geometricPrecision">18058.0</text>
<text transform="translate(1633.18,662) scale(0.820,1)" font-size="10.2" letter-spacing="0.402" fill="#000" stroke="#000" stroke-width="0.18" text-rendering="geometricPrecision">17900.5</text>
<text transform="translate(1633.00,224) scale(0.820,1)" font-size="10.2" letter-spacing="0.541" fill="#fff" stroke="#fff" stroke-width="0.18" text-rendering="geometricPrecision">20000.0</text>
<text transform="translate(1633.18,287) scale(0.820,1)" font-size="10.2" letter-spacing="0.402" fill="#fff" stroke="#fff" stroke-width="0.18" text-rendering="geometricPrecision">19700.0</text>
<text transform="translate(1631.00,674) scale(0.820,1)" font-size="10.2" letter-spacing="0.629" fill="#000" stroke="#000" stroke-width="0.18" text-rendering="geometricPrecision">332.06</text>
<text transform="translate(1631.00,759) scale(0.820,1)" font-size="10.2" letter-spacing="0.650" fill="#000" stroke="#000" stroke-width="0.18" text-rendering="geometricPrecision">0.00</text>
<text transform="translate(1631.00,874) scale(0.820,1)" font-size="10.2" letter-spacing="0.467" fill="#000" stroke="#000" stroke-width="0.18" text-rendering="geometricPrecision">-446.36</text>
<text transform="translate(4.00,890) scale(0.820,1)" font-size="10.2" letter-spacing="0.924" fill="#000" stroke="#000" stroke-width="0.18" text-rendering="geometricPrecision">3 Apr 2023</text>
<text transform="translate(67.58,890) scale(0.820,1)" font-size="10.2" letter-spacing="0.749" fill="#000" stroke="#000" stroke-width="0.18" text-rendering="geometricPrecision">12 Apr 01:15</text>
<text transform="translate(131.48,890) scale(0.820,1)" font-size="10.2" letter-spacing="0.749" fill="#000" stroke="#000" stroke-width="0.18" text-rendering="geometricPrecision">18 Apr 01:15</text>
<text transform="translate(196.70,890) scale(0.820,1)" font-size="10.2" letter-spacing="0.636" fill="#000" stroke="#000" stroke-width="0.18" text-rendering="geometricPrecision">24 Apr 01:15</text>
<text transform="translate(260.80,890) scale(0.820,1)" font-size="10.2" letter-spacing="0.581" fill="#000" stroke="#000" stroke-width="0.18" text-rendering="geometricPrecision">28 Apr 01:15</text>
<text transform="translate(324.40,890) scale(0.820,1)" font-size="10.2" letter-spacing="0.741" fill="#000" stroke="#000" stroke-width="0.18" text-rendering="geometricPrecision">5 May 01:15</text>
<text transform="translate(388.08,890) scale(0.820,1)" font-size="10.2" letter-spacing="0.831" fill="#000" stroke="#000" stroke-width="0.18" text-rendering="geometricPrecision">11 May 01:15</text>
<text transform="translate(451.68,890) scale(0.820,1)" font-size="10.2" letter-spacing="0.741" fill="#000" stroke="#000" stroke-width="0.18" text-rendering="geometricPrecision">17 May 01:15</text>
<text transform="translate(516.10,890) scale(0.820,1)" font-size="10.2" letter-spacing="0.749" fill="#000" stroke="#000" stroke-width="0.18" text-rendering="geometricPrecision">23 May 01:15</text>
<text transform="translate(580.20,890) scale(0.820,1)" font-size="10.2" letter-spacing="0.794" fill="#000" stroke="#000" stroke-width="0.18" text-rendering="geometricPrecision">30 May 01:15</text>
<text transform="translate(644.70,890) scale(0.820,1)" font-size="10.2" letter-spacing="0.505" fill="#000" stroke="#000" stroke-width="0.18" text-rendering="geometricPrecision">5 Jun 01:15</text>
<text transform="translate(708.40,890) scale(0.820,1)" font-size="10.2" letter-spacing="0.505" fill="#000" stroke="#000" stroke-width="0.18" text-rendering="geometricPrecision">9 Jun 01:15</text>
<text transform="translate(771.58,890) scale(0.820,1)" font-size="10.2" letter-spacing="0.537" fill="#000" stroke="#000" stroke-width="0.18" text-rendering="geometricPrecision">15 Jun 01:15</text>
<text transform="translate(836.50,890) scale(0.820,1)" font-size="10.2" letter-spacing="0.457" fill="#000" stroke="#000" stroke-width="0.18" text-rendering="geometricPrecision">21 Jun 01:15</text>
<text transform="translate(900.30,890) scale(0.820,1)" font-size="10.2" letter-spacing="0.490" fill="#000" stroke="#000" stroke-width="0.18" text-rendering="geometricPrecision">28 Jun 01:15</text>
<text transform="translate(964.40,890) scale(0.820,1)" font-size="10.2" letter-spacing="0.402" fill="#000" stroke="#000" stroke-width="0.18" text-rendering="geometricPrecision">4 Jul 01:15</text>
<text transform="translate(1027.58,890) scale(0.820,1)" font-size="10.2" letter-spacing="0.545" fill="#000" stroke="#000" stroke-width="0.18" text-rendering="geometricPrecision">10 Jul 01:15</text>
<text transform="translate(1092.08,890) scale(0.820,1)" font-size="10.2" letter-spacing="0.490" fill="#000" stroke="#000" stroke-width="0.18" text-rendering="geometricPrecision">14 Jul 01:15</text>
<text transform="translate(1156.50,890) scale(0.820,1)" font-size="10.2" letter-spacing="0.455" fill="#000" stroke="#000" stroke-width="0.18" text-rendering="geometricPrecision">20 Jul 05:00</text>
<text transform="translate(1220.00,890) scale(0.820,1)" font-size="10.2" letter-spacing="0.510" fill="#000" stroke="#000" stroke-width="0.18" text-rendering="geometricPrecision">26 Jul 05:00</text>
<text transform="translate(1283.88,890) scale(0.820,1)" font-size="10.2" letter-spacing="0.810" fill="#000" stroke="#000" stroke-width="0.18" text-rendering="geometricPrecision">1 Aug 05:00</text>
<text transform="translate(19.48,16) scale(0.820,1)" font-size="10.2" letter-spacing="0.930" fill="#000" stroke="#000" stroke-width="0.18" text-rendering="geometricPrecision">HK50-,H4</text>
<text transform="translate(67.00,16) scale(0.820,1)" font-size="10.2" letter-spacing="0.459" fill="#000" stroke="#000" stroke-width="0.18" text-rendering="geometricPrecision">20168.5</text>
<text transform="translate(103.20,16) scale(0.820,1)" font-size="10.2" letter-spacing="0.398" fill="#000" stroke="#000" stroke-width="0.18" text-rendering="geometricPrecision">20175.5</text>
<text transform="translate(138.98,16) scale(0.820,1)" font-size="10.2" letter-spacing="0.463" fill="#000" stroke="#000" stroke-width="0.18" text-rendering="geometricPrecision">19959.5</text>
<text transform="translate(175.20,16) scale(0.820,1)" font-size="10.2" letter-spacing="0.378" fill="#000" stroke="#000" stroke-width="0.18" text-rendering="geometricPrecision">20024.5</text>
<text transform="translate(8.78,676) scale(0.820,1)" font-size="10.2" letter-spacing="0.793" fill="#000" stroke="#000" stroke-width="0.18" text-rendering="geometricPrecision">MACD(12,26,9)</text>
<text transform="translate(78.60,676) scale(0.820,1)" font-size="10.2" letter-spacing="0.312" fill="#000" stroke="#000" stroke-width="0.18" text-rendering="geometricPrecision">296.31</text>
<text transform="translate(109.10,676) scale(0.820,1)" font-size="10.2" letter-spacing="0.629" fill="#000" stroke="#000" stroke-width="0.18" text-rendering="geometricPrecision">200.60</text>
<path d="M8 11H15L11.5 15Z" fill="#000"/>
</svg></body></html>
